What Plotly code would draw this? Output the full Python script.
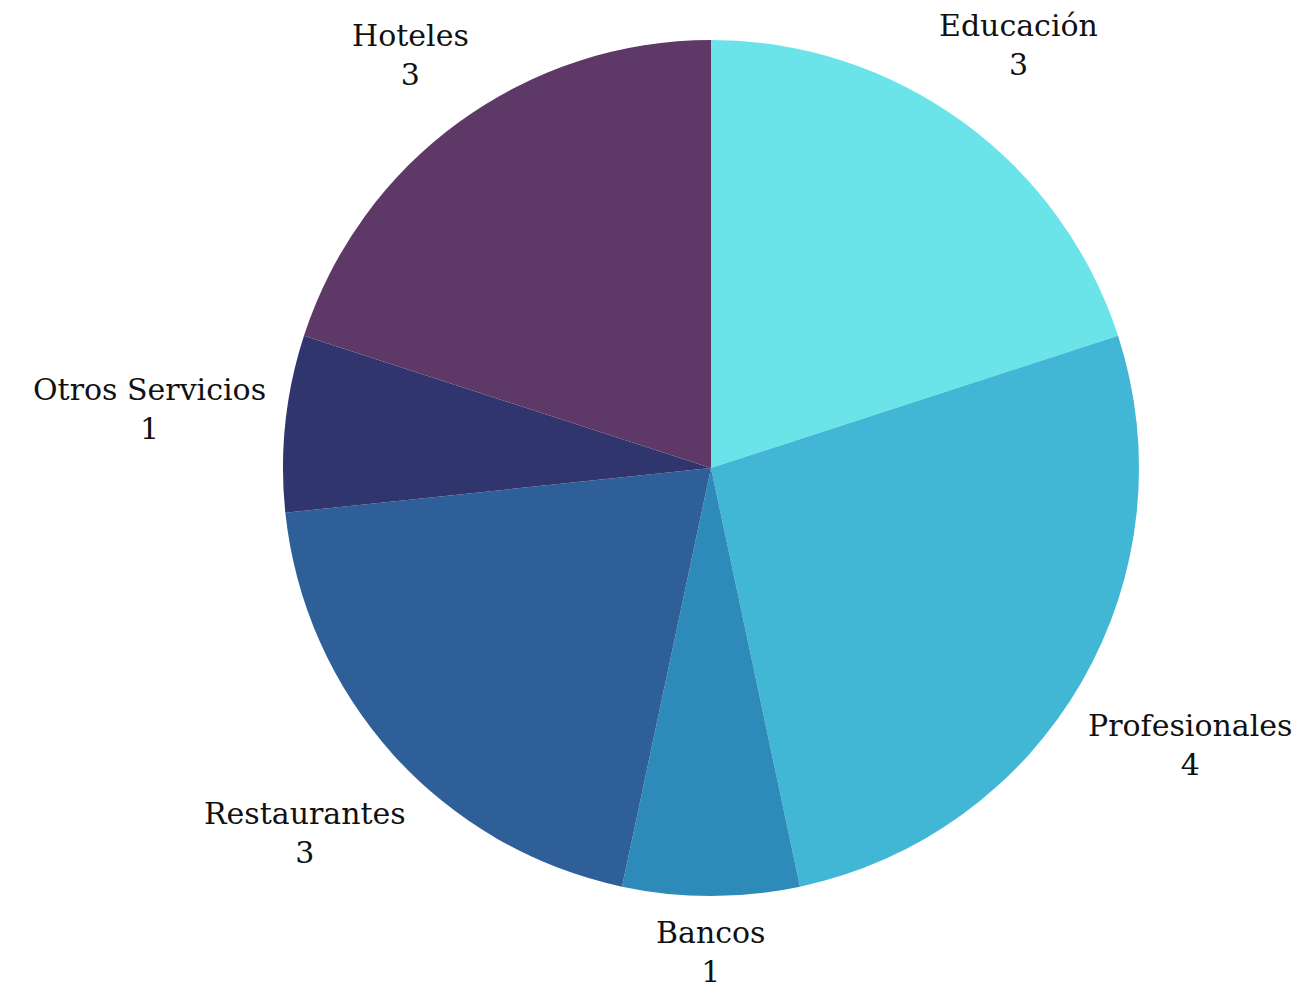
import math
import plotly.graph_objects as go

labels = ["Educación", "Profesionales", "Bancos", "Restaurantes", "Otros Servicios", "Hoteles"]
values = [3, 4, 1, 3, 1, 3]
colors = ["#6AE4E8", "#42B6D5", "#2E8AB8", "#2E5F98", "#30356E", "#5E3967"]

FONT = "DejaVu Serif"
FONT_SIZE = 30
W, H = 1303, 987
M_L, M_T, SIDE = 275, 32, 856
M_R = W - M_L - SIDE
M_B = H - M_T - SIDE
R = SIDE / 2  # pie radius in px (plot area is square)


def text_width(s):
    try:
        from PIL import ImageFont
        import glob
        paths = glob.glob("/usr/share/fonts/**/DejaVuSerif.ttf", recursive=True)
        f = ImageFont.truetype(paths[0], FONT_SIZE)
        return f.getlength(s)
    except Exception:
        return len(s) * 0.53 * FONT_SIZE


fig = go.Figure(go.Pie(
    labels=labels,
    values=values,
    sort=False,
    direction="clockwise",
    rotation=0,
    marker=dict(colors=colors, line=dict(width=0)),
    textinfo="none",
    showlegend=False,
    hoverinfo="label+value+percent",
))

total = sum(values)
cum = 0
for lab, v in zip(labels, values):
    mid = (cum + v / 2) / total * 2 * math.pi
    cum += v
    hw = text_width(lab) / 2
    hh = 39
    d = R + 17 + hw * abs(math.sin(mid)) + hh * abs(math.cos(mid))
    fig.add_annotation(
        x=0.5, y=0.5, xref="paper", yref="paper",
        text=f"{lab}<br>{v}", showarrow=False,
        xshift=d * math.sin(mid), yshift=d * math.cos(mid),
        xanchor="center", yanchor="middle", align="center",
        font=dict(family=FONT, size=FONT_SIZE, color="#111111"),
    )

fig.update_layout(
    width=W,
    height=H,
    margin=dict(l=M_L, r=M_R, t=M_T, b=M_B),
    paper_bgcolor="white",
    plot_bgcolor="white",
    font=dict(family=FONT),
)

fig.write_html("out.html")
